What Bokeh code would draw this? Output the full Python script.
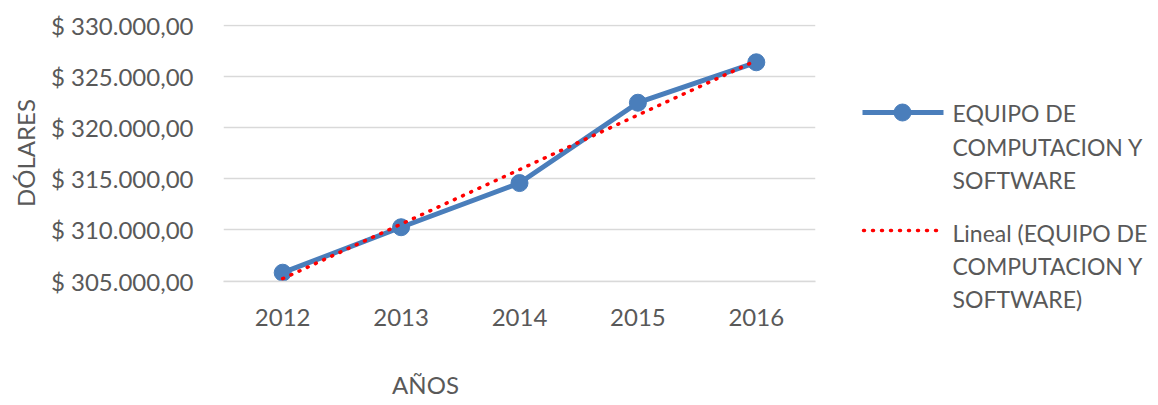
import numpy as np
from bokeh.plotting import figure
from bokeh.models import FixedTicker, Range1d
from bokeh.layouts import row, column
from bokeh.core.properties import value
from bokeh.embed import file_html
from bokeh.resources import INLINE

# ---- data ----
years = ["2012", "2013", "2014", "2015", "2016"]
values = [305820, 310260, 314575, 322420, 326370]
y_ticks = [305000, 310000, 315000, 320000, 325000, 330000]
y_tick_labels = ["$ 305.000,00", "$ 310.000,00", "$ 315.000,00",
                 "$ 320.000,00", "$ 325.000,00", "$ 330.000,00"]
series_label_lines = ["EQUIPO DE", "COMPUTACION Y", "SOFTWARE"]
trend_label_lines = ["Lineal (EQUIPO DE", "COMPUTACION Y", "SOFTWARE)"]
x_title = "AÑOS"
y_title = "DÓLARES"

# linear trend (least squares, as Excel's "Lineal" trendline)
idx = np.arange(len(values))
slope, intercept = np.polyfit(idx, values, 1)
trend = list(slope * idx + intercept)

FONT = "Lato"
GRAY = "#595959"
BLUE = "#4a7ebb"
RED = "#ff0000"

H = 340
TOP, FRAME_H = 24, 257
Y0, Y1 = 304960, 330060
MAIN_W = 847
p = figure(x_range=years, y_range=Range1d(Y0, Y1),
           width=MAIN_W, height=H, output_backend="svg", toolbar_location=None,
           min_border_left=223, min_border_right=32, min_border_top=TOP,
           min_border_bottom=H - TOP - FRAME_H)
p.outline_line_color = None
p.xgrid.grid_line_color = None
p.ygrid.grid_line_color = "#d9d9d9"
p.ygrid.grid_line_width = 1.5
p.yaxis.ticker = FixedTicker(ticks=y_ticks)
p.yaxis.major_label_overrides = {t: l for t, l in zip(y_ticks, y_tick_labels)}

for ax in (p.xaxis[0], p.yaxis[0]):
    ax.major_tick_line_color = None
    ax.minor_tick_line_color = None
    ax.major_label_text_font = FONT
    ax.major_label_text_color = GRAY
    ax.major_label_text_font_size = "24px"
    ax.axis_label_text_font = FONT
    ax.axis_label_text_color = GRAY
    ax.axis_label_text_font_size = "24px"
    ax.axis_label_text_font_style = "normal"
p.xaxis.major_label_standoff = 21
p.yaxis.major_label_standoff = 24
p.yaxis.axis_line_color = None
p.xaxis.axis_line_color = "#d9d9d9"
p.xaxis.axis_line_width = 1.5
p.yaxis.axis_label = y_title
p.yaxis.axis_label_standoff = 8

p.line(years, values, line_color=BLUE, line_width=5, line_join="round")
p.scatter(years, values, size=17, fill_color=BLUE, line_color=BLUE)
p.line(years, trend, line_color=RED, line_width=3.5, line_dash="1 8", line_cap="round")

# ---- legend panel ----
LW = 303
lg = figure(width=LW, height=H, x_range=Range1d(0, LW), y_range=Range1d(H, 0),
            output_backend="svg", toolbar_location=None,
            min_border_left=0, min_border_right=0, min_border_top=0, min_border_bottom=0)
lg.frame_align = False
lg.axis.visible = False
lg.grid.visible = False
lg.outline_line_color = None

# offsets inside the legend panel (pixels from its top-left corner)
y1 = [112, 146, 179]
y2 = [232, 265, 298]
lg.line([15, 96], [y1[0], y1[0]], line_color=BLUE, line_width=5)
lg.scatter([55], [y1[0]], size=17, fill_color=BLUE, line_color=BLUE)
lg.line([16, 92], [y2[0] - 2, y2[0] - 2], line_color=RED, line_width=3.5,
        line_dash="1 8", line_cap="round")
lg.text([105] * 3, y1, text=series_label_lines, text_font=value(FONT),
        text_font_size="23px", text_color=GRAY, text_baseline="middle")
lg.text([105] * 3, y2, text=trend_label_lines, text_font=value(FONT),
        text_font_size="23px", text_color=GRAY, text_baseline="middle")

# ---- x-axis title strip (left of centre, as in the original) ----
BH = 64
BW = MAIN_W + LW
bt = figure(width=BW, height=BH, x_range=Range1d(0, BW), y_range=Range1d(BH, 0),
            output_backend="svg", toolbar_location=None,
            min_border_left=0, min_border_right=0, min_border_top=0, min_border_bottom=0)
bt.frame_align = False
bt.axis.visible = False
bt.grid.visible = False
bt.outline_line_color = None
bt.text([425], [44], text=[x_title], text_font=value(FONT), text_font_size="24px",
        text_color=GRAY, text_align="center", text_baseline="middle")

layout = column(row(p, lg), bt)
open("out.html", "w").write(file_html(layout, INLINE))
